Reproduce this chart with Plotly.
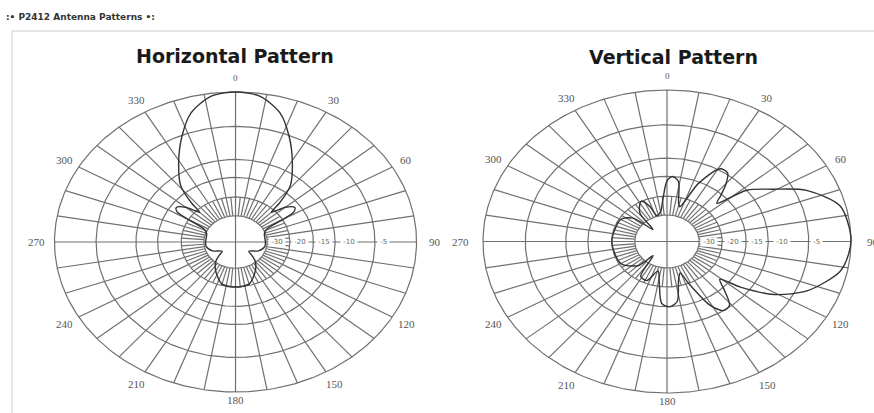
import numpy as np
import plotly.graph_objects as go

# ---------------- data (angle in degrees, radius normalised to outer ring) -------------
h_angle = [0, 8, 16, 23, 31, 39, 43, 45, 50, 55, 58, 60, 63, 70, 90, 100, 115, 130, 135, 140,
           150, 164, 175, 180, 185, 196, 210, 220, 225, 230, 245, 260, 270, 290, 297, 300,
           302, 305, 310, 315, 317, 321, 329, 337, 344, 352, 360]
h_radius = [1.0, 0.98, 0.894, 0.76, 0.61, 0.48, 0.36, 0.28, 0.36, 0.40, 0.38, 0.31, 0.20, 0.17,
            0.165, 0.165, 0.14, 0.096, 0.13, 0.17, 0.22, 0.287, 0.30, 0.30, 0.30, 0.287, 0.22,
            0.17, 0.13, 0.096, 0.14, 0.165, 0.165, 0.17, 0.20, 0.31, 0.38, 0.40, 0.36, 0.28,
            0.36, 0.48, 0.61, 0.76, 0.894, 0.98, 1.0]

v_angle = [0, 4, 9, 14, 17, 24, 31, 36, 40, 44, 47, 52, 59, 66, 76, 88, 95, 102, 113, 121, 127,
           131, 136, 141, 146, 151, 157, 161, 166, 172, 178, 184, 189, 194, 203, 212, 219, 224,
           240, 270, 300, 310, 316, 322, 332, 338, 342, 350, 355, 360]
v_radius = [0.40, 0.43, 0.40, 0.26, 0.24, 0.42, 0.56, 0.56, 0.50, 0.42, 0.37, 0.55, 0.67, 0.83,
            0.97, 1.0, 0.99, 0.96, 0.83, 0.68, 0.50, 0.38, 0.45, 0.54, 0.55, 0.48, 0.30, 0.22,
            0.26, 0.40, 0.43, 0.41, 0.27, 0.20, 0.28, 0.27, 0.12, 0.22, 0.29, 0.30, 0.29, 0.24,
            0.11, 0.24, 0.30, 0.25, 0.18, 0.20, 0.27, 0.40]

ring_radius = [0.175, 0.30, 0.43, 0.55, 0.77, 1.0]
ring_labels = ["-30", "-20", "-15", "-10", "-5"]
ring_label_pos = [0.228, 0.357, 0.487, 0.627, 0.815]
angle_ticks = [0, 30, 60, 90, 120, 150, 180, 210, 240, 270, 300, 330]
chart_titles = ["Horizontal Pattern", "Vertical Pattern"]
header_text = ":• P2412 Antenna Patterns •:"

GRID = "#707070"
CURVE = "#333333"


def to_xy(theta_deg, r):
    t = np.radians(np.asarray(theta_deg, dtype=float))
    r = np.asarray(r, dtype=float)
    return r * np.sin(t), r * np.cos(t)


def grid_trace(xa, ya):
    gx, gy = [], []
    t = np.linspace(0, 360, 361)
    for rr in ring_radius:
        x, y = to_xy(t, np.full_like(t, rr))
        gx += list(x) + [None]
        gy += list(y) + [None]
    for a in range(0, 360, 10):
        if a % 90 == 0:
            continue
        x, y = to_xy([a, a], [ring_radius[0], 1.0])
        gx += list(x) + [None]
        gy += list(y) + [None]
    for a in range(5, 360, 10):
        x, y = to_xy([a, a], [ring_radius[0], ring_radius[1]])
        gx += list(x) + [None]
        gy += list(y) + [None]
    for a in (0, 90):
        x, y = to_xy([a, a + 180], [1.0, 1.0])
        gx += list(x) + [None]
        gy += list(y) + [None]
    return go.Scatter(x=gx, y=gy, mode="lines", xaxis=xa, yaxis=ya,
                      line=dict(color=GRID, width=1.2), hoverinfo="skip", showlegend=False)


fig = go.Figure()
for xa, ya, ang, rad in (("x", "y", h_angle, h_radius), ("x2", "y2", v_angle, v_radius)):
    fig.add_trace(grid_trace(xa, ya))
    px_, py_ = to_xy(ang, rad)
    fig.add_trace(go.Scatter(x=px_, y=py_, mode="lines", xaxis=xa, yaxis=ya,
                             line=dict(color=CURVE, width=1.4, shape="spline", smoothing=0.8),
                             hoverinfo="skip", showlegend=False))

annotations = []
for xa, ya, kx in (("x", "y", 1.10), ("x2", "y2", 1.12)):
    for a in angle_ticks:
        k = 1.09
        if a in (90, 270):
            k = kx
        if a == 180:
            k = 1.055
        x, y = to_xy([a], [k])
        annotations.append(dict(x=float(x[0]), y=float(y[0]), xref=xa, yref=ya, text=str(a),
                                showarrow=False, xanchor="center", yanchor="middle",
                                font=dict(family="Liberation Serif", size=11 if a else 9,
                                          color="#555555")))
    for lab, pos in zip(ring_labels, ring_label_pos):
        annotations.append(dict(x=pos, y=0, xref=xa, yref=ya, text="\u00a0" + lab + "\u00a0",
                                showarrow=False, xanchor="center", yanchor="middle",
                                bgcolor="white", borderpad=0,
                                font=dict(family="DejaVu Sans", size=7, color="#666666")))

annotations.append(dict(x=235 / 874, y=1 - 56 / 413, xref="paper", yref="paper",
                        text="<b>%s</b>" % chart_titles[0], showarrow=False,
                        xanchor="center", yanchor="middle",
                        font=dict(family="DejaVu Sans", size=19, color="#1a1a1a")))
annotations.append(dict(x=673 / 874, y=1 - 57 / 413, xref="paper", yref="paper",
                        text="<b>%s</b>" % chart_titles[1], showarrow=False,
                        xanchor="center", yanchor="middle",
                        font=dict(family="DejaVu Sans", size=19, color="#1a1a1a")))
annotations.append(dict(x=4 / 874, y=1 - 17 / 413, xref="paper", yref="paper",
                        text="<b>%s</b>" % header_text, showarrow=False,
                        xanchor="left", yanchor="middle",
                        font=dict(family="DejaVu Sans", size=9, color="#333333")))

shapes = [
    dict(type="line", xref="paper", yref="paper", x0=12 / 874, x1=1, y0=1 - 31 / 413,
         y1=1 - 31 / 413, line=dict(color="#cccccc", width=1)),
    dict(type="line", xref="paper", yref="paper", x0=12 / 874, x1=12 / 874, y0=0,
         y1=1 - 31 / 413, line=dict(color="#cccccc", width=1)),
]

ax = dict(visible=False, showgrid=False, zeroline=False, fixedrange=True)
fig.update_layout(
    width=874, height=413,
    margin=dict(l=0, r=0, t=0, b=0),
    paper_bgcolor="white", plot_bgcolor="rgba(0,0,0,0)",
    xaxis=dict(ax, domain=[0, 0.5], range=[-1.301, 1.113]),
    yaxis=dict(ax, domain=[0, 1], range=[-1.14, 1.613]),
    xaxis2=dict(ax, domain=[0.5, 1], range=[-1.25, 1.125], anchor="y2"),
    yaxis2=dict(ax, domain=[0, 1], range=[-1.132, 1.594], anchor="x2"),
    annotations=annotations,
    shapes=shapes,
    showlegend=False,
)

fig.write_html("out.html", config={"staticPlot": True},
               post_script="document.body.style.margin='0';document.body.style.overflow='hidden';")
